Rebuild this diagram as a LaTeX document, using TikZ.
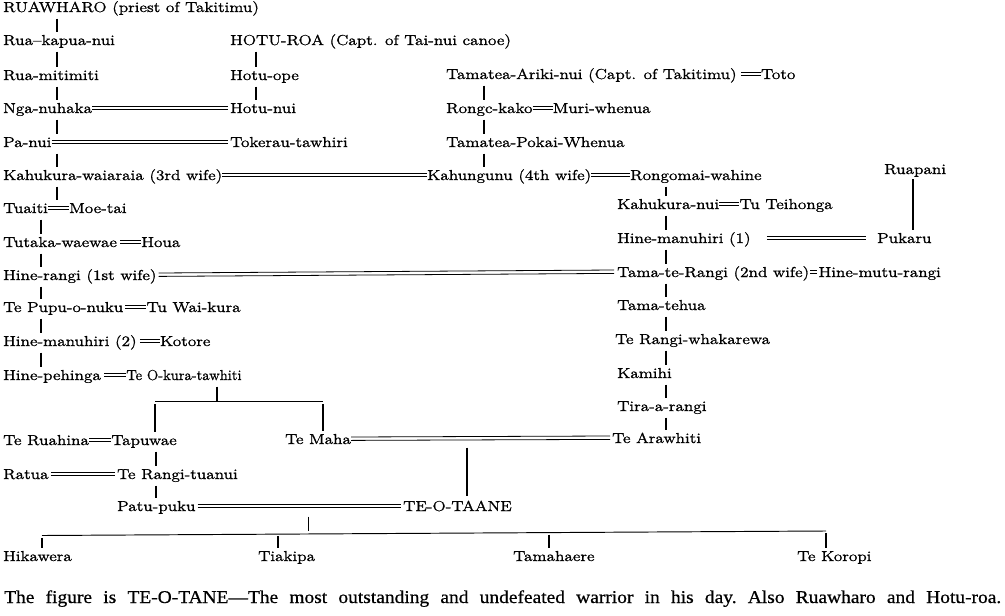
\documentclass[tikz,border=0pt]{standalone}
\usepackage{fontspec}
\setmainfont{lmroman12-regular.otf}[FakeStretch=1.2, FakeBold=1.2]
\newfontfamily\capfont{Liberation Serif}[FakeStretch=1.08, FakeBold=0.6]
\usetikzlibrary{calc}
\newcommand{\marry}[4]{%
  \draw[mline] ([yshift=3.6pt,xshift=#3pt]#1.base east) -- ([yshift=3.6pt,xshift=-#4pt]#2.base west);
  \draw[mline] ([yshift=7.0pt,xshift=#3pt]#1.base east) -- ([yshift=7.0pt,xshift=-#4pt]#2.base west);}
\begin{document}
\begin{tikzpicture}[x=1pt,y=-1pt,
  p/.style={anchor=base west, inner sep=0pt, font=\fontsize{14.4}{16}\selectfont, text height=9.5pt, text depth=3pt},
  mline/.style={line width=0.8pt},
  kid/.style={line width=1.1pt, shorten <=3.5pt, shorten >=3.5pt},
  sib/.style={line width=0.95pt}]
\fill[white] (0,0) rectangle (1005,616);
\useasboundingbox (0,0) rectangle (1005,616);
% ---------- left column ----------
\node[p] (ruawharo) at (3,12) {RUAWHARO (priest of Takitimu)};
\node[p] (rkn) at (3,45) {Rua–kapua-nui};
\node[p] (rm) at (3,80) {Rua-mitimiti};
\node[p] (ngn) at (3,113) {Nga-nuhaka};
\node[p] (panui) at (3,147) {Pa-nui};
\node[p] (kw) at (3,180) {Kahukura-waiaraia (3rd wife)};
\node[p] (tuaiti) at (3,213) {Tuaiti};
\node[p] (moetai) at ($(tuaiti.base east)+(21,0)$) {Moe-tai};
\node[p] (tutaka) at (3,247) {Tutaka-waewae};
\node[p] (houa) at ($(tutaka.base east)+(24,0)$) {Houa};
\node[p] (hinerangi) at (3,280) {Hine-rangi (1st wife)};
\node[p] (tepupu) at (3,312) {Te Pupu-o-nuku};
\node[p] (tuwai) at ($(tepupu.base east)+(23,0)$) {Tu Wai-kura};
\node[p] (hm2) at (3,346) {Hine-manuhiri (2)};
\node[p] (kotore) at ($(hm2.base east)+(23,0)$) {Kotore};
\node[p] (hp) at (3,380) {Hine-pehinga};
\node[p] (teokura) at ($(hp.base east)+(25,0)$) {\scalebox{0.86}[1]{Te O-kura-tawhiti}};
\node[p] (teruahina) at (3,445) {Te Ruahina};
\node[p] (tapuwae) at ($(teruahina.base east)+(22,0)$) {Tapuwae};
\node[p] (temaha) at (285,444) {Te Maha};
\node[p] (ratua) at (3,479) {Ratua};
\node[p] (terangituanui) at (117,479) {Te Rangi-tuanui};
\node[p] (patupuku) at (117,511) {Patu-puku};
\node[p] (teotaane) at (403,511) {TE-O-TAANE};
\node[p] (hikawera) at (3,561) {Hikawera};
\node[p] (tiakipa) at (258,561) {Tiakipa};
\node[p] (tamahaere) at (513,561) {Tamahaere};
\node[p] (tekoropi) at (797,561) {Te Koropi};
% ---------- middle column ----------
\node[p] (hoturoa) at (230,45) {HOTU-ROA (Capt. of Tai-nui canoe)};
\node[p] (hotuope) at (230,80) {Hotu-ope};
\node[p] (hotunui) at (230,113) {Hotu-nui};
\node[p] (tokerau) at (230,147) {Tokerau-tawhiri};
% ---------- right column ----------
\node[p] (tamatea) at (446,79) {Tamatea-Ariki-nui (Capt. of Takitimu)};
\node[p] (toto) at ($(tamatea.base east)+(24,0)$) {Toto};
\node[p] (rongc) at (446,113) {Rongc-kako};
\node[p] (muri) at ($(rongc.base east)+(20,0)$) {Muri-whenua};
\node[p] (pokai) at (446,147) {Tamatea-Pokai-Whenua};
\node[p] (kahungunu) at (427,180) {Kahungunu (4th wife)};
\node[p] (rongomai) at (630,180) {Rongomai-wahine};
\node[p] (ruapani) at (884,174) {Ruapani};
\node[p] (kahukuranui) at (617,209) {Kahukura-nui};
\node[p] (tuteihonga) at ($(kahukuranui.base east)+(20,0)$) {Tu Teihonga};
\node[p] (hm1) at (617,243) {Hine-manuhiri (1)};
\node[p] (pukaru) at (877,243) {Pukaru};
\node[p] (tamaterangi) at (617,277) {Tama-te-Rangi (2nd wife)};
\node[p] (hinemutu) at ($(tamaterangi.base east)+(9,0)$) {Hine-mutu-rangi};
\node[p] (tamatehua) at (617,310) {Tama-tehua};
\node[p] (terangiwh) at (615,344) {Te Rangi-whakarewa};
\node[p] (kamihi) at (617,378) {Kamihi};
\node[p] (tira) at (617,411) {Tira-a-rangi};
\node[p] (tearawhiti) at (612,443) {Te Arawhiti};
% ---------- caption ----------
\node[anchor=base west, inner sep=0pt] (cap) at (4,603)
  {\capfont\fontsize{18}{21}\selectfont\frenchspacing\makebox[997pt][s]{The figure is TE-O-TANE—The most outstanding and undefeated warrior in his day. Also Ruawharo and Hotu-roa.}};
% ---------- marriages ----------
\foreach \a/\b/\sa/\sb in {ngn/hotunui/0/2, panui/tokerau/0/2, kw/kahungunu/0/0,
    kahungunu/rongomai/0/0, tuaiti/moetai/0/0, tutaka/houa/3/0, hinerangi/tamaterangi/2/3,
    tepupu/tuwai/2/0, hm2/kotore/3/0, hp/teokura/3/0, tamatea/toto/4/0, rongc/muri/0/0,
    kahukuranui/tuteihonga/0/0, hm1/pukaru/16/11, tamaterangi/hinemutu/1/1,
    teruahina/tapuwae/0/0, temaha/tearawhiti/0/2, ratua/terangituanui/2/2,
    patupuku/teotaane/2/2}
  {\marry{\a}{\b}{\sa}{\sb}}
% ---------- descent bars ----------
\coordinate (xA) at (57,0);
\coordinate (xB) at (41,0);
\coordinate (xH) at (256,0);
\coordinate (xT) at (484,0);
\coordinate (xR) at (666,0);
\coordinate (xP) at (913,0);
\coordinate (xW) at (156,0);
\foreach \a/\b in {ruawharo/rkn, rkn/rm, rm/ngn, ngn/panui, panui/kw, kw/tuaiti}
  \draw[kid] (\a.south -| xA) -- (\b.north -| xA);
\foreach \a/\b in {tuaiti/tutaka, tutaka/hinerangi, hinerangi/tepupu, tepupu/hm2, hm2/hp}
  \draw[kid] (\a.south -| xB) -- (\b.north -| xB);
\foreach \a/\b in {hoturoa/hotuope, hotuope/hotunui}
  \draw[kid] (\a.south -| xH) -- (\b.north -| xH);
\foreach \a/\b in {tamatea/rongc, rongc/pokai, pokai/kahungunu}
  \draw[kid] (\a.south -| xT) -- (\b.north -| xT);
\foreach \a/\b in {rongomai/kahukuranui, kahukuranui/hm1, hm1/tamaterangi, tamaterangi/tamatehua,
    tamatehua/terangiwh, terangiwh/kamihi, kamihi/tira, tira/tearawhiti}
  \draw[kid] (\a.south -| xR) -- (\b.north -| xR);
\draw[kid, shorten <=2pt] (ruapani.south -| xP) -- (pukaru.north -| xP);
\foreach \a/\b in {tapuwae/terangituanui, terangituanui/patupuku}
  \draw[kid] (\a.south -| xW) -- (\b.north -| xW);
% Te O-kura-tawhiti's children
\coordinate (sL) at (155,401);
\coordinate (sM) at (217,401);
\coordinate (sR) at (323,401);
\draw[sib] (sL) -- (sR);
\draw[kid, shorten >=0pt] (teokura.south -| sM) -- (sM);
\draw[kid, shorten <=3pt] (sL) -- (teruahina.north -| sL);
\draw[kid, shorten <=3pt] (sR) -- (temaha.north -| sR);
% Te Maha = Te Arawhiti -> TE-O-TAANE
\coordinate (mTA) at (467,438.7);
\draw[kid, shorten <=9pt, shorten >=5pt] (mTA) -- (teotaane.north -| mTA);
% Patu-puku = TE-O-TAANE -> children
\coordinate (bl) at (42,535.5);
\coordinate (br) at (826,531);
\coordinate (mPT) at (308.5,505.7);
\coordinate (c0) at ($(bl)!0.3393!(br)$);
\coordinate (c1) at ($(bl)!0.301!(br)$);
\coordinate (c2) at ($(bl)!0.6467!(br)$);
\draw[sib] (bl) -- (br);
\draw[kid, shorten <=11pt, shorten >=3pt] (mPT) -- (mPT |- c0);
\draw[kid, shorten <=2pt] (bl) -- (hikawera.north -| bl);
\draw[kid, shorten <=2pt] (c1) -- (tiakipa.north -| c1);
\draw[kid, shorten <=2pt] (c2) -- (tamahaere.north -| c2);
\draw[kid, shorten <=2pt] (br) -- (tekoropi.north -| br);
\end{tikzpicture}
\end{document}
